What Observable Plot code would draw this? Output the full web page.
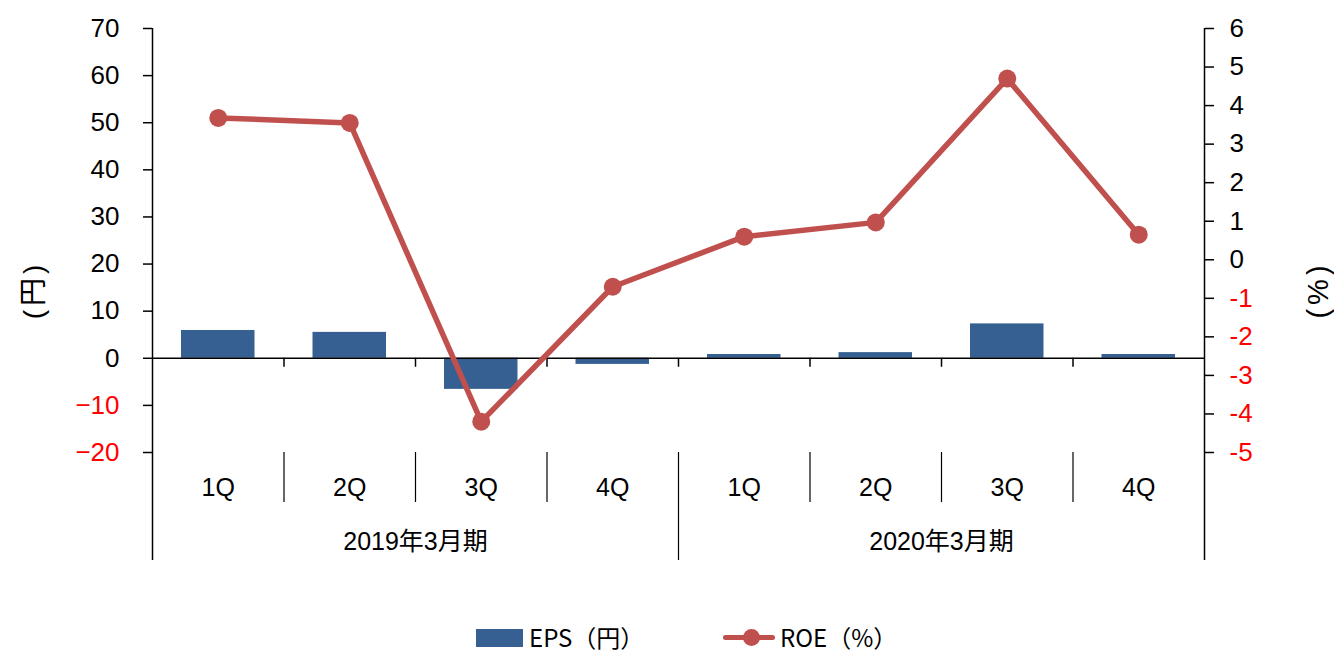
<!DOCTYPE html>
<html>
<head>
<meta charset="utf-8">
<script src="https://cdn.jsdelivr.net/npm/d3@7"></script>
<script src="https://cdn.jsdelivr.net/npm/@observablehq/plot@0.6"></script>
<style>
  body { margin: 0; background: #fff; position: relative; width: 1334px; height: 655px; overflow: hidden; }
  #chart svg { display: block; }
  .lg { position: absolute; }
  .lgtext { position: absolute; font-family: "Noto Sans CJK JP", "Noto Sans", sans-serif; font-size: 24px; line-height: 30px; color: #000; white-space: nowrap; }
  .ytitle { position: absolute; font-family: "Liberation Sans", Arial, "Noto Sans CJK JP", sans-serif; line-height: 1; color: #000; white-space: nowrap; transform: translate(-50%, -50%) rotate(-90deg); letter-spacing: 4px; }
</style>
</head>
<body>
<div id="chart"></div>
<div class="ytitle" id="ytl" style="left:34px; top:290px; font-size:28px;"></div>
<div class="ytitle" id="ytr" style="left:1318px; top:290px; font-size:29px;"></div>
<div class="lg" style="left:476px; top:629px; width:47px; height:18px; background:#366092;"></div>
<div class="lgtext" id="lg1" style="left:529px; top:622px;"></div>
<div class="lg" style="left:723px; top:635px; width:52px; height:5px; background:#C0504D; border-radius:3px;"></div>
<div class="lg" style="left:743px; top:629px; width:17px; height:17px; background:#C0504D; border-radius:50%;"></div>
<div class="lgtext" id="lg2" style="left:780px; top:622px;"></div>
<script>
// ---- data ----
const quarters = ["1Q", "2Q", "3Q", "4Q", "1Q", "2Q", "3Q", "4Q"];
const periods = ["2019年3月期", "2020年3月期"];
const eps = [5.9, 5.5, -6.6, -1.3, 0.8, 1.2, 7.3, 0.8];
const roe = [3.68, 3.55, -4.2, -0.7, 0.6, 0.97, 4.7, 0.65];
const epsTicks = [-20, -10, 0, 10, 20, 30, 40, 50, 60, 70];
const roeTicks = [-5, -4, -3, -2, -1, 0, 1, 2, 3, 4, 5, 6];
const leftTitle = "(円)";
const rightTitle = "(%)";
const legendLabels = ["EPS（円）", "ROE（%）"];

document.getElementById("ytl").textContent = leftTitle;
document.getElementById("ytr").textContent = rightTitle;
document.getElementById("lg1").textContent = legendLabels[0];
document.getElementById("lg2").textContent = legendLabels[1];

// map right-axis (ROE %) values onto the left-axis (EPS) scale
const epsMin = -20, epsMax = 70, roeMin = -5, roeMax = 6;
const toLeft = r => epsMin + (r - roeMin) * (epsMax - epsMin) / (roeMax - roeMin);
const fromLeft = v => Math.round(roeMin + (v - epsMin) * (roeMax - roeMin) / (epsMax - epsMin));

const data = quarters.map((q, i) => ({ i, q, eps: eps[i], roe: roe[i] }));
const boundsInner = d3.range(1, quarters.length).filter(b => b !== 4);
const font = "'Liberation Sans', Arial, 'Noto Sans CJK JP', sans-serif";

const chart = Plot.plot({
  width: 1334,
  height: 600,
  marginLeft: 152,
  marginRight: 130,
  marginTop: 28,
  marginBottom: 148,
  style: { fontFamily: font, fontSize: "25px", background: "white", color: "#000" },
  x: { type: "linear", domain: [0, quarters.length], axis: null },
  y: { domain: [epsMin, epsMax], axis: null },
  marks: [
    // EPS bars
    Plot.rect(data, { x1: d => d.i, x2: d => d.i + 1, y1: () => 0, y2: d => d.eps, fill: "#366092", insetLeft: 29, insetRight: 29 }),
    // zero line (category axis)
    Plot.ruleY([0], { stroke: "#000", strokeWidth: 1.5 }),
    Plot.ruleX(d3.range(1, quarters.length), { x: d => d, y1: () => 0, y2: () => 0, insetBottom: -9, stroke: "#000", strokeWidth: 1.5 }),
    // outer vertical axis lines extended down through the category table
    Plot.ruleX([0, quarters.length], { x: d => d, y1: () => epsMax, y2: () => epsMin, insetBottom: -108, stroke: "#000", strokeWidth: 1.5 }),
    // period separator
    Plot.ruleX([4], { x: d => d, y1: () => epsMin, y2: () => epsMin, insetBottom: -108, stroke: "#000", strokeWidth: 1.2 }),
    // quarter separators
    Plot.ruleX(boundsInner, { x: d => d, y1: () => epsMin, y2: () => epsMin, insetBottom: -50, stroke: "#000", strokeWidth: 1.2 }),
    // category labels
    Plot.text(data, { x: d => d.i + 0.5, y: () => epsMin, text: d => d.q, dy: 35, fontSize: 25 }),
    Plot.text(periods, { x: (d, i) => i * 4 + 2, y: () => epsMin, text: d => d, dy: 89, fontSize: 25 }),
    // ROE line
    Plot.line(data, { x: d => d.i + 0.5, y: d => toLeft(d.roe), stroke: "#C0504D", strokeWidth: 5.5, strokeLinejoin: "round" }),
    Plot.dot(data, { x: d => d.i + 0.5, y: d => toLeft(d.roe), r: 9, fill: "#C0504D" }),
    // left axis
    Plot.axisY(epsTicks.filter(v => v >= 0), { anchor: "left", tickSize: 9, tickPadding: 24, fontSize: 26, label: null, strokeWidth: 1.5 }),
    Plot.axisY(epsTicks.filter(v => v < 0), { anchor: "left", tickSize: 9, tickPadding: 24, fontSize: 26, label: null, fill: "#FF0000", strokeWidth: 1.5 }),
    // right axis
    Plot.axisY(roeTicks.filter(v => v >= 0).map(toLeft), { anchor: "right", tickSize: 9, tickPadding: 16, fontSize: 26, tickFormat: fromLeft, label: null, strokeWidth: 1.5 }),
    Plot.axisY(roeTicks.filter(v => v < 0).map(toLeft), { anchor: "right", tickSize: 9, tickPadding: 16, fontSize: 26, tickFormat: fromLeft, label: null, fill: "#FF0000", strokeWidth: 1.5 })
  ]
});
document.getElementById("chart").appendChild(chart);
</script>
</body>
</html>
